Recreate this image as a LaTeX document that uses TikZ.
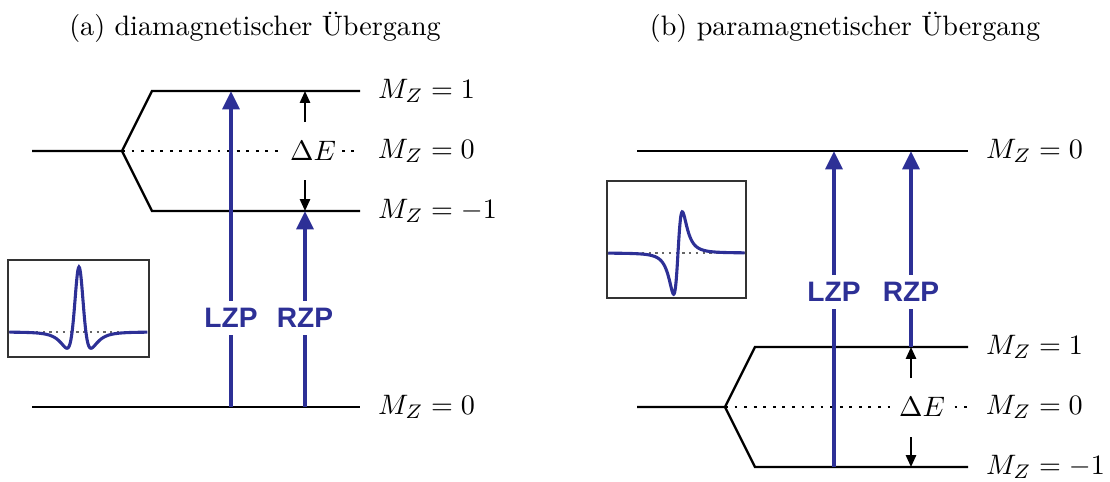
\documentclass[tikz,border=0pt]{standalone}
\usepackage{amsmath,amssymb}
\usepackage{fontspec}
\newfontfamily\zpfont{Liberation Sans}
\usepackage{xcolor}
\usepackage{tikz}
\usetikzlibrary{arrows.meta,calc,positioning}
\definecolor{zpblue}{RGB}{45,48,150}
\tikzset{
  level/.style={line width=0.8pt},
  splitline/.style={line width=0.7pt,dash pattern=on 1pt off 2.4pt},
  zp/.style={zpblue,line width=1.3pt,-{Triangle[length=6.5pt,width=6pt]}},
  zplabel/.style={fill=white,text=zpblue,font=\zpfont\bfseries,inner sep=2.5pt},
  dE/.style={line width=0.7pt,-{Triangle[length=4.2pt,width=3.6pt]}},
  dElabel/.style={fill=white,inner sep=2pt},
  mz/.style={right=6pt,inner sep=0pt},
  inset/.style={draw=black!80,line width=0.9pt},
  base/.style={black!60,line width=0.6pt,dash pattern=on 0.8pt off 1.6pt},
  curve/.style={zpblue,line width=1.1pt}
}

\begin{document}
\begin{tikzpicture}[x=0.0125cm,y=-0.0125cm]
\useasboundingbox (0,0) rectangle (1110,482);
% (a) diamagnetisch
\node (ta) at (255,27) {(a) diamagnetischer \"Ubergang};
\coordinate (a0) at (122,151); \coordinate (aup) at (152,91); \coordinate (adn) at (152,211);
\draw[level] (32,151)--(a0)--(aup)--(360,91) node[mz] (ap) {$M_Z=1$};
\draw[level] (a0)--(adn)--(360,211) node[mz] (am) {$M_Z=-1$};
\draw[splitline] (a0)--(360,151) node[mz] (az) {$M_Z=0$};
\draw[level] (32,407)--(360,407) node[mz] (ag) {$M_Z=0$};
\node[dElabel] (dEa) at (313,151) {$\Delta E$};
\coordinate (la) at (231,407); \coordinate (lb) at (231,91);
\coordinate (ra) at (305,407); \coordinate (rb) at (305,211);
\draw[zp] (la)--(lb); \node[zplabel] (lzpa) at (231,318) {LZP};
\draw[zp] (ra)--(rb); \node[zplabel] (rzpa) at (305,318) {RZP};
\coordinate (ea1) at (305,122); \coordinate (ea2) at (305,91);
\coordinate (ea3) at (305,180); \coordinate (ea4) at (305,211);
\draw[dE] (ea1)--(ea2); \draw[dE] (ea3)--(ea4);
\draw[inset] (8,260) rectangle (149,357);
\draw[base] (9,332)--(148,332);
\draw[curve] plot[domain=-5.8:5.7,samples=241,smooth] ({79+12*\x},{332-65*(1-3*\x*\x)/(1+\x*\x)/(1+\x*\x)/(1+\x*\x)});
% (b) paramagnetisch
\node (tb) at (845,27) {(b) paramagnetischer \"Ubergang};
\draw[level] (637,151)--(968,151) node[mz] (bz) {$M_Z=0$};
\coordinate (b0) at (725,407); \coordinate (bup) at (755,347); \coordinate (bdn) at (755,467);
\draw[level] (637,407)--(b0)--(bup)--(968,347) node[mz] (bp) {$M_Z=1$};
\draw[level] (b0)--(bdn)--(968,467) node[mz] (bm) {$M_Z=-1$};
\draw[splitline] (b0)--(968,407) node[mz] (bg) {$M_Z=0$};
\node[dElabel] (dEb) at (922,407) {$\Delta E$};
\coordinate (lc) at (834,467); \coordinate (ld) at (834,151);
\coordinate (rc) at (911,347); \coordinate (rd) at (911,151);
\draw[zp] (lc)--(ld); \node[zplabel] (lzpb) at (834,292) {LZP};
\draw[zp] (rc)--(rd); \node[zplabel] (rzpb) at (911,292) {RZP};
\coordinate (eb1) at (911,378); \coordinate (eb2) at (911,347);
\coordinate (eb3) at (911,437); \coordinate (eb4) at (911,467);
\draw[dE] (eb1)--(eb2); \draw[dE] (eb3)--(eb4);
\draw[inset] (607,181) rectangle (746,298);
\draw[base] (608,253)--(745,253);
\draw[curve] plot[domain=-9.3:8.9,samples=241,smooth] ({678+7.5*\x},{253-127*\x/(1+\x*\x)/(1+\x*\x)});
\end{tikzpicture}
\end{document}
